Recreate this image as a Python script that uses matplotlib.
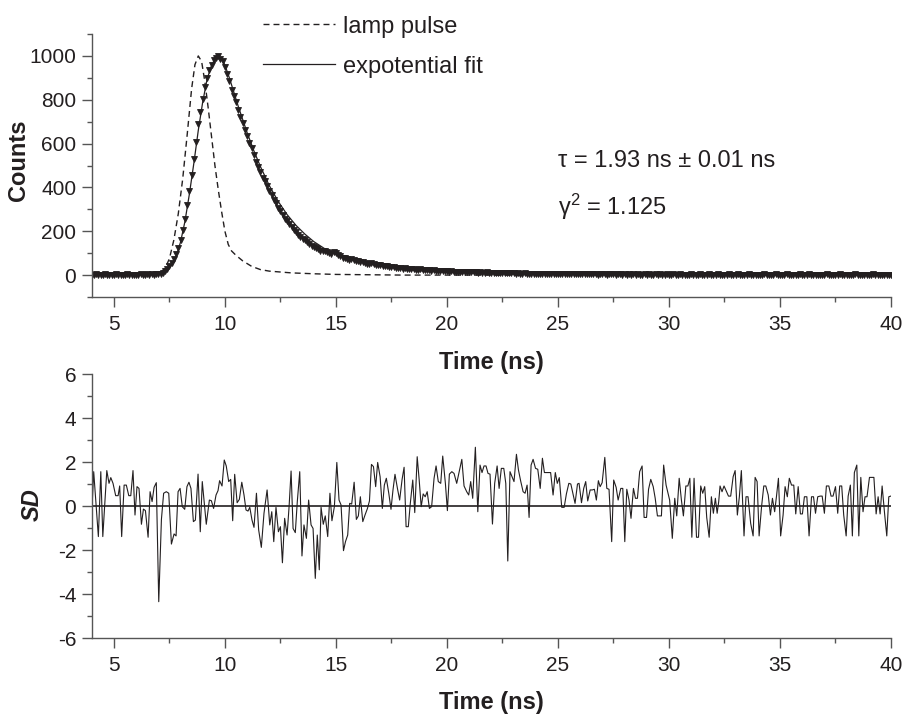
import numpy as np
import matplotlib
matplotlib.use("Agg")
import matplotlib.pyplot as plt
from matplotlib.lines import Line2D
from matplotlib.ticker import MultipleLocator

plt.rcParams['font.family'] = ['Liberation Sans', 'DejaVu Sans']
plt.rcParams['mathtext.fontset'] = 'custom'
plt.rcParams['mathtext.rm'] = 'Liberation Sans'
plt.rcParams['mathtext.it'] = 'Liberation Sans:italic'
plt.rcParams['axes.unicode_minus'] = False

# ---------------- data ----------------
# measured decay counts (triangles), channel times 4.0 .. 40.0 ns, step 0.1 ns
data_t = np.round(np.arange(4.0, 40.05, 0.1), 2)
data_counts = [
    2, 0, 3, 1, 0, 2, 4, 1, 0, 2,
    1, 3, 0, 2, 1, 0, 3, 2, 1, 0,
    2, 1, 3, 0, 2, 4, 1, 3, 2, 4,
    4, 7, 11, 19, 29, 42, 56, 73, 96, 124,
    160, 205, 258, 318, 385, 455, 530, 605, 690, 745,
    805, 860, 900, 935, 958, 982, 990, 998, 988, 975,
    950, 918, 885, 845, 815, 788, 752, 722, 695, 660,
    635, 602, 578, 548, 515, 495, 470, 442, 428, 408,
    385, 366, 342, 330, 305, 292, 272, 255, 248, 232,
    220, 206, 198, 185, 176, 165, 158, 150, 140, 132,
    128, 122, 118, 112, 108, 112, 104, 100, 98, 104,
    102, 92, 85, 80, 76, 72, 70, 74, 68, 64,
    62, 58, 60, 55, 52, 50, 54, 52, 48, 45,
    44, 42, 40, 42, 38, 36, 35, 33, 34, 32,
    30, 31, 28, 27, 29, 26, 25, 24, 26, 23,
    22, 23, 21, 20, 22, 19, 18, 20, 17, 18,
    17, 16, 18, 15, 16, 14, 15, 14, 13, 15,
    13, 12, 14, 12, 11, 12, 10, 11, 12, 10,
    10, 9, 11, 9, 10, 8, 9, 8, 9, 8,
    8, 7, 8, 7, 6, 8, 7, 6, 7, 6,
    6, 5, 7, 5, 6, 5, 4, 6, 5, 5,
    5, 4, 6, 4, 5, 4, 3, 5, 4, 4,
    4, 3, 5, 3, 4, 3, 4, 3, 2, 4,
    3, 4, 2, 3, 4, 3, 2, 3, 3, 2,
    3, 2, 4, 2, 3, 2, 3, 2, 2, 3,
    2, 3, 2, 2, 3, 1, 3, 2, 2, 3,
    2, 2, 3, 1, 2, 3, 2, 1, 2, 2,
    3, 1, 2, 2, 3, 2, 1, 2, 3, 2,
    2, 1, 3, 2, 2, 1, 2, 3, 1, 2,
    2, 3, 1, 2, 2, 1, 3, 2, 2, 1,
    2, 2, 1, 3, 2, 1, 2, 2, 3, 1,
    2, 1, 2, 3, 1, 2, 2, 1, 2, 3,
    1, 2, 2, 3, 1, 2, 1, 2, 2, 1,
    2, 3, 1, 2, 2, 1, 2, 3, 2, 1,
    2, 1, 2, 2, 3, 1, 2, 1, 2, 2,
    1, 2, 3, 1, 2, 2, 1, 2, 1, 2,
    2,
]

# exponential fit (solid line)
fit_t = [4.0, 6.8, 7.0, 7.2, 7.4, 7.6, 7.8, 8.0, 8.2, 8.4, 8.6, 8.8, 9.0, 9.2,
         9.4, 9.55, 9.7, 9.85, 10.0, 10.2, 10.4, 10.6, 10.8, 11.0, 11.3, 11.6,
         12.0, 12.4, 12.8, 13.2, 13.6, 14.0, 14.5, 15.0, 15.5, 16.0, 17.0,
         18.0, 19.0, 20.0, 22.0, 24.0, 27.0, 30.0, 35.0, 40.0]
fit_counts = [0, 0, 2, 8, 20, 45, 85, 150, 245, 370, 510, 660, 790, 895,
              958, 985, 997, 990, 958, 900, 835, 770, 710, 650, 568, 495,
              408, 336, 276, 227, 187, 153, 120, 95, 76, 61, 40,
              27, 18, 12, 6, 3, 1, 0, 0, 0]

# lamp pulse (dashed line)
lamp_t = [4.0, 7.0, 7.3, 7.5, 7.7, 7.9, 8.1, 8.3, 8.5, 8.65, 8.8, 8.95, 9.1,
          9.25, 9.4, 9.55, 9.7, 9.85, 10.0, 10.15, 10.3, 10.5, 10.8, 11.2,
          11.6, 12.0, 13.0, 14.0, 15.0, 16.0, 18.0, 40.0]
lamp_counts = [0, 0, 30, 75, 160, 280, 440, 640, 850, 960, 1000, 975, 880,
               760, 630, 500, 390, 290, 200, 140, 110, 90, 65, 40,
               25, 18, 10, 6, 3, 2, 0, 0]

# weighted residuals (SD)
res_t = [4.00, 4.09, 4.30, 4.41, 4.50, 4.68, 4.78, 4.86, 4.96, 5.08, 5.19, 5.26,
         5.35, 5.46, 5.56, 5.67, 5.76, 5.86, 5.95, 6.04, 6.13, 6.24, 6.33, 6.42,
         6.54, 6.63, 6.72, 6.81, 6.91, 7.02, 7.14, 7.24, 7.36, 7.47, 7.59, 7.71,
         7.80, 7.89, 7.98, 8.08, 8.19, 8.29, 8.38, 8.47, 8.58, 8.67, 8.79, 8.89,
         8.98, 9.16, 9.30, 9.39, 9.49, 9.60, 9.69, 9.76, 9.87, 9.97, 10.06, 10.17,
         10.26, 10.35, 10.44, 10.55, 10.65, 10.76, 10.86, 10.95, 11.04, 11.12,
         11.22, 11.31, 11.42, 11.52, 11.64, 11.76, 11.90, 12.02, 12.11, 12.20,
         12.30, 12.41, 12.50, 12.59, 12.69, 12.80, 12.89, 12.98, 13.07, 13.17,
         13.26, 13.37, 13.47, 13.56, 13.67, 13.77, 13.88, 13.97, 14.07, 14.16,
         14.25, 14.33, 14.43, 14.52, 14.63, 14.73, 14.82, 14.93, 15.04, 15.14,
         15.23, 15.34, 15.43, 15.53, 15.62, 15.71, 15.82, 15.92, 16.01, 16.10,
         16.21, 16.31, 16.42, 16.51, 16.60, 16.69, 16.79, 16.88, 16.99, 17.09,
         17.18, 17.27, 17.38, 17.48, 17.57, 17.66, 17.77, 17.87, 17.98, 18.07,
         18.16, 18.26, 18.35, 18.46, 18.55, 18.66, 18.75, 18.84, 18.93, 19.02,
         19.11, 19.21, 19.31, 19.42, 19.51, 19.61, 19.72, 19.81, 19.93, 20.02,
         20.11, 20.22, 20.32, 20.44, 20.55, 20.67, 20.77, 20.89, 20.98, 21.07,
         21.16, 21.28, 21.39, 21.49, 21.58, 21.67, 21.76, 21.85, 21.94, 22.05,
         22.15, 22.26, 22.35, 22.45, 22.56, 22.65, 22.74, 22.84, 22.93, 23.02,
         23.13, 23.22, 23.32, 23.43, 23.52, 23.61, 23.70, 23.79, 23.88, 23.99,
         24.09, 24.20, 24.30, 24.39, 24.49, 24.67, 24.78, 24.88, 24.97, 25.06,
         25.17, 25.28, 25.38, 25.49, 25.58, 25.67, 25.77, 25.88, 25.95, 26.06,
         26.16, 26.25, 26.34, 26.45, 26.55, 26.64, 26.73, 26.82, 26.90, 26.99,
         27.11, 27.20, 27.30, 27.42, 27.51, 27.62, 27.71, 27.83, 27.92, 28.01,
         28.10, 28.20, 28.29, 28.40, 28.49, 28.58, 28.68, 28.79, 28.88, 28.99,
         29.08, 29.18, 29.29, 29.38, 29.48, 29.59, 29.66, 29.76, 29.87, 30.03,
         30.15, 30.26, 30.35, 30.46, 30.56, 30.65, 30.76, 30.85, 30.94, 31.03,
         31.13, 31.24, 31.33, 31.43, 31.52, 31.61, 31.70, 31.81, 31.91, 32.00,
         32.09, 32.17, 32.24, 32.30, 32.39, 32.48, 32.59, 32.68, 32.78, 32.89,
         32.98, 33.08, 33.17, 33.26, 33.38, 33.47, 33.56, 33.68, 33.79, 33.88,
         33.97, 34.06, 34.17, 34.27, 34.36, 34.47, 34.57, 34.66, 34.76, 34.84,
         34.93, 35.03, 35.14, 35.23, 35.33, 35.42, 35.52, 35.62, 35.71, 35.82,
         35.92, 36.01, 36.10, 36.21, 36.31, 36.42, 36.51, 36.60, 36.70, 36.81,
         36.90, 37.00, 37.09, 37.20, 37.30, 37.39, 37.50, 37.60, 37.69, 37.78,
         37.87, 37.98, 38.07, 38.17, 38.26, 38.35, 38.46, 38.55, 38.64, 38.74,
         38.83, 38.92, 39.03, 39.12, 39.23, 39.33, 39.42, 39.51, 39.60, 39.71,
         39.81, 39.90, 39.99]
res_sd = [-0.41, 1.56, -1.39, 1.56, -1.39, 1.61, 1.03, 1.29, 1.03, 0.47, 0.47, 0.91,
          -1.39, 0.95, 0.95, 0.47, 0.47, 1.61, -0.41, 0.88, 0.80, -0.83, -0.14, -0.21,
          -1.42, 0.65, 0.20, 0.85, 1.06, -4.35, -0.61, 0.58, 0.65, 0.58, -1.73, -1.27,
          -1.36, 0.65, 0.80, -0.03, -0.15, 0.88, 1.08, 0.80, -0.71, -0.64, 1.45, -1.17,
          1.11, -0.83, 0.27, 0.24, -0.11, 0.50, 0.70, 1.15, 0.91, 2.09, 1.82, 1.11,
          1.21, -0.67, 1.44, 0.15, 0.30, 1.08, 0.50, -0.18, -0.23, -0.06,
          -0.64, -0.97, 0.58, -1.09, -1.88, -0.33, 0.73, -0.86, -0.26, -1.62,
          -0.06, -1.17, -0.94, -2.58, -0.56, -1.32, -0.03, 1.59, -1.02, -1.21,
          0.20, 1.56, -2.27, -0.86, -1.47, 0.27, -0.86, -1.02, -3.29, -1.32,
          -2.90, -0.06, -0.83, -0.45, -1.39, 0.58, -0.67, -0.03, 1.98, 0.27,
          0.05, -2.03, -1.62, -1.32, 0.12, 0.09, 1.08, -0.61, -0.45, 0.42,
          -0.71, -0.41, -0.11, 0.23, 1.89, 1.79, 0.88, 1.98, 1.33, -0.11,
          0.95, 1.26, 0.58, -0.15, 0.73, 1.44, 0.80, 0.27, 1.21, 1.76,
          -0.94, -0.94, 0.12, 1.18, -0.30, 2.24, 1.18, -0.03, 0.55, 0.42,
          0.65, -0.11, -0.03, 1.26, 1.82, 1.11, 1.03, 2.27, 1.03, -0.21,
          1.45, 1.56, 1.48, 1.03, 1.56, 2.12, 0.91, 0.65, 0.50, 1.11,
          0.35, 2.67, -0.26, 1.86, 1.52, 1.82, 1.82, 1.48, 1.45, -0.82,
          1.03, 1.82, 0.80, 1.71, 1.71, 1.03, -2.50, 1.56, 1.33, 1.11,
          2.35, 1.64, 1.14, 0.65, 0.58, 0.95, -0.52, 1.86, 2.12, 1.71,
          1.67, 0.80, 2.17, 1.52, 1.52, 1.52, 0.50, 1.52, 1.03, 1.29,
          -0.06, -0.06, 0.55, 1.03, 1.00, 0.58, 0.12, 1.00, 1.03, 0.15,
          0.80, 1.11, 0.23, 0.73, 0.73, 0.76, 0.27, 1.15, 0.88, 1.06,
          2.21, 0.80, 0.76, -1.62, 1.18, 0.85, 0.27, 0.80, 0.80, -1.62,
          0.76, 0.27, -0.56, 0.80, 0.35, 0.35, 1.56, 1.82, -0.52, -0.52,
          0.76, 1.21, 0.88, 0.35, -0.45, -0.45, -0.45, 1.86, 0.95, 0.27,
          -1.47, 0.35, -0.45, 1.26, 0.27, -0.45, 0.91, 0.91, 1.26, -1.42,
          1.26, -1.42, -1.42, 0.91, 0.58, 0.88, -0.52, -1.42, 0.42, -0.33,
          0.35, -0.33, 0.20, 0.91, 0.65, 0.91, 0.65, 0.45, 0.45, 1.33,
          1.61, -0.41, 0.42, 1.61, -1.36, 0.42, 0.42, -0.79, -1.36, 1.30,
          1.11, -1.36, -0.03, 0.91, 0.91, 0.50, -0.41, 0.35, -0.26, 0.42,
          1.26, -1.36, -0.41, 0.88, 0.42, 1.26, 0.95, 0.95, -0.36, 0.88,
          -0.36, -0.36, 0.42, 0.42, -1.36, 0.42, 0.42, -0.33, 0.42, 0.45,
          0.45, -0.33, 0.91, 0.91, 0.45, 0.45, 0.88, -0.33, 0.91, 0.91,
          -0.41, -1.36, 0.45, 0.95, -1.36, 1.52, 1.86, -1.36, 1.30, -0.26,
          0.42, 0.42, 1.30, 1.30, 1.30, -0.36, 0.42, -0.36, 0.91, -0.33,
          -1.36, 0.42, 0.45]

x_ticks = [5, 10, 15, 20, 25, 30, 35, 40]
counts_ticks = [0, 200, 400, 600, 800, 1000]
sd_ticks = [-6, -4, -2, 0, 2, 4, 6]

# ---------------- figure ----------------
W, H = 904, 715
fig = plt.figure(figsize=(W / 100, H / 100), dpi=100)
ax1 = fig.add_axes([91.7 / W, 1 - 297 / H, (891 - 91.7) / W, (297 - 34) / H])
ax2 = fig.add_axes([91.7 / W, 1 - 638 / H, (891 - 91.7) / W, (638 - 374) / H])

ink = '#231f20'
spine_c = '#555555'


def fy(y):
    return 1 - y / H


ax1.plot(lamp_t, lamp_counts, color=ink, lw=1.0, ls=(0, (4.3, 2.9)))
ax1.plot(data_t, data_counts[:len(data_t)], ls='none', marker='v', ms=5.0,
         color=ink, mec=ink, mew=0.6)
ax1.plot(fit_t, fit_counts, color=ink, lw=0.9)

ax2.plot(res_t, res_sd, color=ink, lw=0.8)
ax2.axhline(0, color=ink, lw=1.2)

for ax in (ax1, ax2):
    ax.set_xlim(4, 40)
    ax.set_xticks(x_ticks)
    ax.xaxis.set_minor_locator(MultipleLocator(2.5))
    for s in ('top', 'right'):
        ax.spines[s].set_visible(False)
    for s in ('left', 'bottom'):
        ax.spines[s].set_color(spine_c)
        ax.spines[s].set_linewidth(1.0)
    ax.tick_params(which='major', direction='out', length=7.2, width=1.0,
                   color=spine_c, labelsize=15, labelcolor=ink, pad=4)
    ax.tick_params(which='minor', direction='out', length=3.8, width=1.0,
                   color=spine_c)
    ax.tick_params(axis='x', which='major', pad=6)

ax1.set_ylim(-100, 1100)
ax1.set_yticks(counts_ticks)
ax1.yaxis.set_minor_locator(MultipleLocator(100))

ax2.set_ylim(-6, 6)
ax2.set_yticks(sd_ticks)
ax2.yaxis.set_minor_locator(MultipleLocator(1))

# axis titles placed at reference pixel centres
xc = (91.7 + 891) / 2 / W
fig.text(xc, fy(362), 'Time (ns)', fontsize=17, fontweight='bold', color=ink,
         ha='center', va='center')
fig.text(xc, fy(702), 'Time (ns)', fontsize=17, fontweight='bold', color=ink,
         ha='center', va='center')
fig.text(19 / W, fy(160), 'Counts', fontsize=17, fontweight='bold', color=ink,
         ha='center', va='center', rotation=90)
fig.text(32 / W, fy(505), 'SD', fontsize=17, fontweight='bold',
         fontstyle='italic', color=ink, ha='center', va='center', rotation=90)

# annotations
ax1.text(25.0, 492, 'τ = 1.93 ns ± 0.01 ns', fontsize=17, color=ink,
         va='baseline', ha='left')
ax1.text(25.0, 273, r'γ$^{2}$ = 1.125', fontsize=17, color=ink,
         va='baseline', ha='left')

# legend drawn in figure pixels
fig.add_artist(Line2D([263 / W, 335 / W], [fy(24), fy(24)], color=ink,
                      lw=1.0, ls=(0, (4.3, 2.9))))
fig.add_artist(Line2D([263 / W, 335 / W], [fy(64), fy(64)], color=ink,
                      lw=0.9))
fig.text(343 / W, fy(33), 'lamp pulse', fontsize=17, color=ink, va='baseline')
fig.text(343 / W, fy(72.5), 'expotential fit', fontsize=17, color=ink,
         va='baseline')

fig.savefig('out.png', dpi=100)
